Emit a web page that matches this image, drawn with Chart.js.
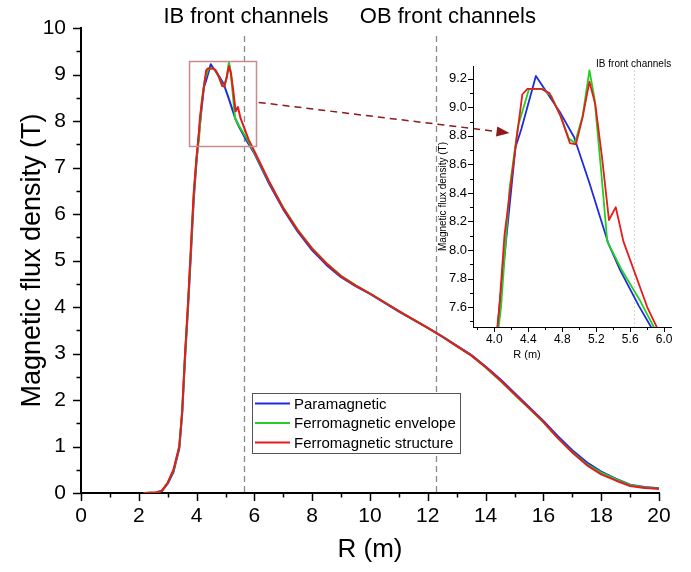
<!DOCTYPE html>
<html>
<head>
<meta charset="utf-8">
<script src="https://cdn.jsdelivr.net/npm/chart.js@4.4.1/dist/chart.umd.min.js"></script>
<style>
  html, body { margin: 0; padding: 0; background: #fff; }
  #wrap { position: relative; width: 691px; height: 572px; overflow: hidden; }
  canvas { position: absolute; }
  #main { left: 0; top: 0; }
  #inset { left: 425px; top: 50px; }
</style>
</head>
<body>
<div id="wrap">
  <canvas id="main" width="691" height="572"></canvas>
  <canvas id="inset" width="262" height="320"></canvas>
</div>
<script>
// Radial profiles of the magnetic flux density B (T) against R (m)
const paraR = [2.2, 2.6, 2.8, 3.0, 3.2, 3.4, 3.5, 3.6, 3.7, 3.8,
               3.9, 4.0, 4.06, 4.25, 4.32, 4.49, 4.59, 4.78, 4.94, 5.12,
               5.34, 5.48, 5.70, 6.0, 6.5, 7.0, 7.5, 8.0, 8.5, 9.0,
               9.5, 10, 11, 12, 12.5, 13, 13.5, 14, 14.5, 15,
               15.5, 16, 16.5, 17, 17.5, 18, 18.5, 19, 19.5, 20];
const paraB = [0, 0.01, 0.04, 0.2, 0.45, 0.95, 1.7, 2.9, 3.95, 5.1,
               6.3, 7.15, 7.6, 8.72, 8.85, 9.22, 9.13, 8.96, 8.79, 8.47,
               8.05, 7.86, 7.61, 7.3, 6.66, 6.1, 5.62, 5.22, 4.9, 4.64,
               4.45, 4.28, 3.9, 3.55, 3.37, 3.17, 2.97, 2.72, 2.45, 2.15,
               1.85, 1.55, 1.22, 0.92, 0.66, 0.46, 0.31, 0.18, 0.13, 0.1];

const envR = [2.2, 2.6, 2.8, 3.0, 3.2, 3.4, 3.5, 3.6, 3.7, 3.8, 3.9, 4.0,
              4.08, 4.18, 4.28, 4.41, 4.57, 4.67, 4.78, 4.88, 4.95, 5.04,
              5.12, 5.18, 5.26, 5.33, 5.49, 5.72,
              6.0, 6.5, 7.0, 7.5, 8.0, 8.5, 9.0, 9.5, 10, 11, 12, 12.5, 13, 13.5,
              14, 14.5, 15, 15.5, 16, 16.5, 17, 17.5, 18, 18.5, 19, 19.5, 20];
const envB = [0, 0.01, 0.05, 0.22, 0.48, 1.0, 1.75, 2.95, 4.0, 5.2, 6.4, 7.2,
              7.6, 8.43, 8.87, 9.13, 9.13, 9.08, 8.94, 8.78, 8.75, 8.94,
              9.26, 9.06, 8.54, 8.06, 7.87, 7.64,
              7.32, 6.7, 6.14, 5.66, 5.26, 4.94, 4.67, 4.47, 4.29, 3.91, 3.55, 3.36, 3.16, 2.96,
              2.7, 2.42, 2.12, 1.82, 1.52, 1.18, 0.88, 0.62, 0.44, 0.3, 0.17, 0.12, 0.09];

const strR = [2.2, 2.6, 2.8, 3.0, 3.2, 3.4, 3.5, 3.6, 3.7, 3.8, 3.9, 4.0,
              4.06, 4.12, 4.25, 4.33, 4.39, 4.55, 4.65, 4.78, 4.89, 4.96,
              5.04, 5.12, 5.19, 5.27, 5.35, 5.43, 5.52, 5.80,
              6.0, 6.5, 7.0, 7.5, 8.0, 8.5, 9.0, 9.5, 10, 11, 12, 12.5, 13, 13.5,
              14, 14.5, 15, 15.5, 16, 16.5, 17, 17.5, 18, 18.5, 19, 19.5, 20];
const strB = [0, 0.01, 0.05, 0.22, 0.5, 1.0, 1.75, 3.0, 4.05, 5.25, 6.45, 7.25,
              7.6, 8.10, 8.72, 9.09, 9.13, 9.13, 9.10, 8.94, 8.75, 8.74,
              8.93, 9.18, 9.02, 8.64, 8.21, 8.30, 8.06, 7.60,
              7.35, 6.71, 6.12, 5.65, 5.25, 4.93, 4.66, 4.46, 4.29, 3.91, 3.55, 3.36, 3.16, 2.96,
              2.71, 2.43, 2.13, 1.83, 1.53, 1.18, 0.87, 0.6, 0.4, 0.27, 0.15, 0.11, 0.09];

// Front channel positions (R, m) and their names
const channelR = [5.64, 12.28];
const channelNames = ['IB front channels', 'OB front channels'];

// Window around the peak that is magnified in the inset
const zoomR = [3.75, 6.08];
const zoomB = [7.46, 9.29];

const FONT = '"Liberation Sans", Arial, Helvetica, sans-serif';
Chart.defaults.font.family = FONT;
Chart.defaults.color = '#000';

const INSET_LEFT = 425, INSET_TOP = 50;

const toPoints = (r, b) => r.map((v, i) => ({ x: v, y: b[i] }));

// The structure curve is painted last (on top), the paramagnetic one first
function makeDatasets(width) {
  return [
    { label: 'Paramagnetic', data: toPoints(paraR, paraB), borderColor: '#1f2be0', order: 3 },
    { label: 'Ferromagnetic envelope', data: toPoints(envR, envB), borderColor: '#22cf22', order: 2 },
    { label: 'Ferromagnetic structure', data: toPoints(strR, strB), borderColor: '#e61b1b', order: 1 }
  ].map(d => Object.assign(d, {
    borderWidth: width, pointRadius: 0, fill: false, tension: 0,
    borderJoinStyle: 'round', borderCapStyle: 'round'
  }));
}

// Outward major/minor tick marks drawn from the scales
const axisTicks = {
  id: 'axisTicks',
  afterDraw(chart, _args, o) {
    const ctx = chart.ctx;
    ctx.save();
    ctx.strokeStyle = '#000';
    ctx.lineWidth = o.width;
    ctx.beginPath();
    for (const id of Object.keys(o.scales)) {
      const cfg = o.scales[id];
      const s = chart.scales[id];
      const k0 = Math.ceil(s.min / cfg.minor - 1e-6);
      const k1 = Math.floor(s.max / cfg.minor + 1e-6);
      for (let k = k0; k <= k1; k++) {
        const v = k * cfg.minor;
        const r = v / cfg.major;
        const isMajor = Math.abs(r - Math.round(r)) < 1e-6;
        const len = isMajor ? cfg.majorLen : cfg.minorLen;
        const p = Math.round(s.getPixelForValue(v)) + 0.5;
        if (s.isHorizontal()) {
          ctx.moveTo(p, s.top); ctx.lineTo(p, s.top + len);
        } else {
          ctx.moveTo(s.right, p); ctx.lineTo(s.right - len, p);
        }
      }
    }
    ctx.stroke();
    ctx.restore();
  }
};

// Vertical dashed markers of the front channels, with their names
const channelLines = {
  id: 'channelLines',
  beforeDatasetsDraw(chart, _args, o) {
    const { ctx, chartArea } = chart;
    const xs = chart.scales.x;
    ctx.save();
    ctx.strokeStyle = o.color;
    ctx.lineWidth = o.width;
    ctx.setLineDash(o.dash);
    o.values.forEach(v => {
      const px = Math.round(xs.getPixelForValue(v)) + 0.5;
      ctx.beginPath();
      ctx.moveTo(px, chartArea.top + o.topGap);
      ctx.lineTo(px, chartArea.bottom);
      ctx.stroke();
    });
    ctx.setLineDash([]);
    ctx.fillStyle = '#000';
    ctx.font = o.font;
    ctx.textAlign = 'center';
    ctx.textBaseline = 'middle';
    o.labels.forEach((t, i) => {
      ctx.fillText(t, xs.getPixelForValue(o.values[i]) + o.labelDx[i], o.labelY);
    });
    ctx.restore();
  }
};

// Axis caption placed under the tick labels, offset from the plot's left edge
const axisCaption = {
  id: 'axisCaption',
  afterDraw(chart, _args, o) {
    const { ctx, chartArea } = chart;
    ctx.save();
    ctx.font = o.font;
    ctx.fillStyle = '#000';
    ctx.textAlign = 'center';
    ctx.textBaseline = 'middle';
    ctx.fillText(o.text, chartArea.left + o.dx, chartArea.bottom + o.dy);
    ctx.restore();
  }
};

// Frame around the magnified window
const zoomFrame = {
  id: 'zoomFrame',
  afterDatasetsDraw(chart, _args, o) {
    const { ctx } = chart;
    const xs = chart.scales.x, ys = chart.scales.y;
    const x0 = xs.getPixelForValue(zoomR[0]), x1 = xs.getPixelForValue(zoomR[1]);
    const y0 = ys.getPixelForValue(zoomB[1]), y1 = ys.getPixelForValue(zoomB[0]);
    ctx.save();
    ctx.strokeStyle = o.color;
    ctx.lineWidth = o.width;
    ctx.strokeRect(Math.round(x0) + 0.5, Math.round(y0) + 0.5, Math.round(x1 - x0), Math.round(y1 - y0));
    ctx.restore();
  }
};

// Boxed legend inside the plot
const boxLegend = {
  id: 'boxLegend',
  afterDraw(chart, _args, o) {
    const ctx = chart.ctx;
    const sets = chart.data.datasets;
    ctx.save();
    ctx.font = o.font;
    const textW = Math.max(...sets.map(d => ctx.measureText(d.label).width));
    const w = o.padLeft + o.sample + o.gap + textW + o.padRight;
    const h = o.padTop * 2 + o.row * (sets.length - 1) + o.rowSpan;
    ctx.fillStyle = '#fff';
    ctx.fillRect(o.left, o.top, w, h);
    ctx.strokeStyle = o.border;
    ctx.lineWidth = 1;
    ctx.strokeRect(o.left + 0.5, o.top + 0.5, Math.round(w), Math.round(h));
    ctx.textAlign = 'left';
    ctx.textBaseline = 'middle';
    sets.forEach((d, i) => {
      const cy = o.top + o.padTop + o.rowSpan / 2 + i * o.row;
      ctx.strokeStyle = d.borderColor;
      ctx.lineWidth = 2;
      ctx.beginPath();
      ctx.moveTo(o.left + o.padLeft, cy);
      ctx.lineTo(o.left + o.padLeft + o.sample, cy);
      ctx.stroke();
      ctx.fillStyle = '#000';
      ctx.fillText(d.label, o.left + o.padLeft + o.sample + o.gap, cy + 1);
    });
    ctx.restore();
  }
};

// Dashed arrow from the frame to the magnified view
const zoomArrow = {
  id: 'zoomArrow',
  afterDraw(chart, _args, o) {
    const ins = o.target();
    if (!ins) return;
    const ctx = chart.ctx;
    const xs = chart.scales.x, ys = chart.scales.y;
    const fx = xs.getPixelForValue(o.from[0]) + 2, fy = ys.getPixelForValue(o.from[1]);
    const tx = INSET_LEFT + ins.scales.x.getPixelForValue(o.to[0]);
    const ty = INSET_TOP + ins.scales.y.getPixelForValue(o.to[1]);
    const ang = Math.atan2(ty - fy, tx - fx);
    const hl = 13, hw = 5;
    const bx = tx - hl * Math.cos(ang), by = ty - hl * Math.sin(ang);
    ctx.save();
    ctx.strokeStyle = o.color;
    ctx.fillStyle = o.color;
    ctx.lineWidth = 1.5;
    ctx.setLineDash([7, 5]);
    ctx.beginPath();
    ctx.moveTo(fx, fy);
    ctx.lineTo(bx, by);
    ctx.stroke();
    ctx.setLineDash([]);
    ctx.beginPath();
    ctx.moveTo(tx, ty);
    ctx.lineTo(bx + hw * Math.sin(ang), by - hw * Math.cos(ang));
    ctx.lineTo(bx - hw * Math.sin(ang), by + hw * Math.cos(ang));
    ctx.closePath();
    ctx.fill();
    ctx.restore();
  }
};

// Magnified view of the peak region
const insetChart = new Chart(document.getElementById('inset'), {
  type: 'line',
  data: { datasets: makeDatasets(1.8) },
  options: {
    responsive: false, animation: false, devicePixelRatio: 1,
    layout: { padding: { top: 16, right: 16, left: 0, bottom: 0 } },
    plugins: {
      legend: { display: false }, tooltip: { enabled: false },
      axisTicks: {
        width: 1,
        scales: {
          x: { major: 0.4, minor: 0.2, majorLen: 5, minorLen: 3 },
          y: { major: 0.2, minor: 0.1, majorLen: 5, minorLen: 3 }
        }
      },
      channelLines: {
        values: [channelR[0]], labels: [channelNames[0]],
        color: '#d4d4d4', width: 1, dash: [2, 2], topGap: 0,
        font: '10px ' + FONT, labelY: 14, labelDx: [0]
      },
      axisCaption: { text: 'R (m)', font: '11px ' + FONT, dx: 54, dy: 28 }
    },
    scales: {
      x: {
        type: 'linear', min: zoomR[0], max: zoomR[1],
        grid: { display: false, drawTicks: false },
        border: { color: '#000', width: 1 },
        ticks: { stepSize: 0.4, includeBounds: false, padding: 5, maxRotation: 0,
                 font: { size: 12 }, callback: v => v.toFixed(1) },
        afterFit(s) { s.height = 43; }
      },
      y: {
        type: 'linear', min: zoomB[0], max: zoomB[1],
        grid: { display: false, drawTicks: false },
        border: { color: '#000', width: 1 },
        ticks: { stepSize: 0.2, includeBounds: false, padding: 6,
                 font: { size: 13 }, callback: v => v.toFixed(1) },
        title: { display: true, text: 'Magnetic flux density (T)', font: { size: 10 }, padding: { top: 12, bottom: 0 } },
        afterFit(s) { s.width = 48; }
      }
    }
  },
  plugins: [channelLines, axisTicks, axisCaption]
});

// Full radial profile
const mainChart = new Chart(document.getElementById('main'), {
  type: 'line',
  data: { datasets: makeDatasets(2) },
  options: {
    responsive: false, animation: false, devicePixelRatio: 1,
    layout: { padding: { top: 28, right: 32, left: 0, bottom: 0 } },
    plugins: {
      legend: { display: false }, tooltip: { enabled: false },
      axisTicks: {
        width: 1.5,
        scales: {
          x: { major: 2, minor: 1, majorLen: 8, minorLen: 4.5 },
          y: { major: 1, minor: 0.5, majorLen: 8, minorLen: 4.5 }
        }
      },
      channelLines: {
        values: channelR, labels: channelNames,
        color: '#8a8a8a', width: 1.3, dash: [6, 4], topGap: 8,
        font: '22px ' + FONT, labelY: 17, labelDx: [2, 12]
      },
      zoomFrame: { color: '#c88a8a', width: 1.5 },
      boxLegend: {
        left: 252, top: 393, padTop: 1, row: 19.5, rowSpan: 19,
        padLeft: 3, sample: 35, gap: 4, padRight: 4,
        font: '15px ' + FONT, border: '#555'
      },
      zoomArrow: {
        from: [zoomR[1], 8.4], to: [4.18, 8.82], color: '#8e1a1a',
        target: () => insetChart
      }
    },
    scales: {
      x: {
        type: 'linear', min: 0, max: 20,
        grid: { display: false, drawTicks: false },
        border: { color: '#000', width: 2 },
        ticks: { stepSize: 2, padding: 11, maxRotation: 0, font: { size: 21 } },
        title: { display: true, text: 'R (m)', font: { size: 26 }, padding: { top: 0, bottom: 7 } },
        afterFit(s) { s.height = 79; }
      },
      y: {
        type: 'linear', min: 0, max: 10,
        grid: { display: false, drawTicks: false },
        border: { color: '#000', width: 2 },
        ticks: { stepSize: 1, padding: 15, font: { size: 21 } },
        title: { display: true, text: 'Magnetic flux density (T)', font: { size: 27 }, padding: { top: 16, bottom: 0 } },
        afterFit(s) { s.width = 81; }
      }
    }
  },
  plugins: [channelLines, zoomFrame, axisTicks, boxLegend, zoomArrow]
});
</script>
</body>
</html>
